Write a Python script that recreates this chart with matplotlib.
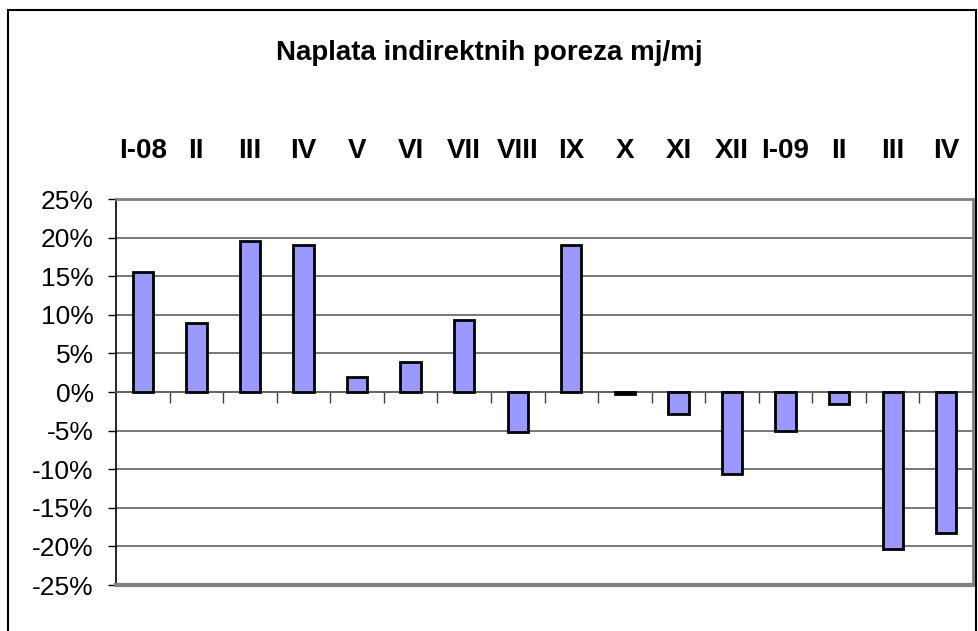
import matplotlib.pyplot as plt
import matplotlib.patches as patches
from matplotlib.ticker import FuncFormatter, FixedLocator

# month labels and month-on-month change (fraction)
months = ["I-08", "II", "III", "IV", "V", "VI", "VII", "VIII", "IX",
          "X", "XI", "XII", "I-09", "II", "III", "IV"]
change = [0.155, 0.089, 0.195, 0.191, 0.020, 0.039, 0.093, -0.052, 0.191,
          -0.003, -0.029, -0.106, -0.050, -0.016, -0.204, -0.182]

plt.rcParams["font.family"] = ["Liberation Sans", "DejaVu Sans"]

fig = plt.figure(figsize=(9.79, 6.31), dpi=100)
ax = fig.add_axes([0.1185, 0.0729, 0.8754, 0.6117])

x = range(len(months))
ax.bar(x, change, width=0.38, color="#9999FF", edgecolor="black", linewidth=2, zorder=3)

ax.set_xlim(-0.5, len(months) - 0.5)
ax.set_ylim(-0.25, 0.25)
ax.set_yticks([i / 100 for i in range(-25, 30, 5)])
ax.yaxis.set_major_formatter(FuncFormatter(lambda v, p: f"{round(v * 100)}%"))
ax.grid(axis="y", color="#606060", linewidth=1.2, zorder=0)
ax.tick_params(axis="y", direction="out", length=6, width=1, labelsize=19, pad=10)

# x axis crosses at zero, tick marks between months, labels on top
ax.spines["bottom"].set_position(("data", 0))
ax.spines["bottom"].set_color("#606060")
ax.spines["bottom"].set_linewidth(1.2)
ax.set_xticks(list(x))
ax.set_xticklabels(months, fontsize=20, fontweight="bold")
ax.xaxis.set_minor_locator(FixedLocator([i + 0.5 for i in range(len(months) - 1)]))
ax.tick_params(axis="x", which="major", length=0, labelbottom=False, labeltop=True, pad=25)
ax.tick_params(axis="x", which="minor", direction="out", length=8, width=1, color="#404040")
for s in ["top", "right"]:
    ax.spines[s].set_color("#808080")
    ax.spines[s].set_linewidth(2)
ax.spines["left"].set_linewidth(1.2)
ax.axhline(-0.25, color="#808080", linewidth=3, clip_on=False, zorder=4)

fig.text(0.5, 0.916, "Naplata indirektnih poreza mj/mj", ha="center", va="center",
         fontsize=20, fontweight="bold")

# outer chart frame
fig.patches.append(patches.Rectangle((8 / 979, -0.01), 968 / 979, 1 - 10 / 631 + 0.01,
                                     transform=fig.transFigure, fill=False,
                                     edgecolor="black", linewidth=1.5))

fig.savefig("out.png", dpi=100)
